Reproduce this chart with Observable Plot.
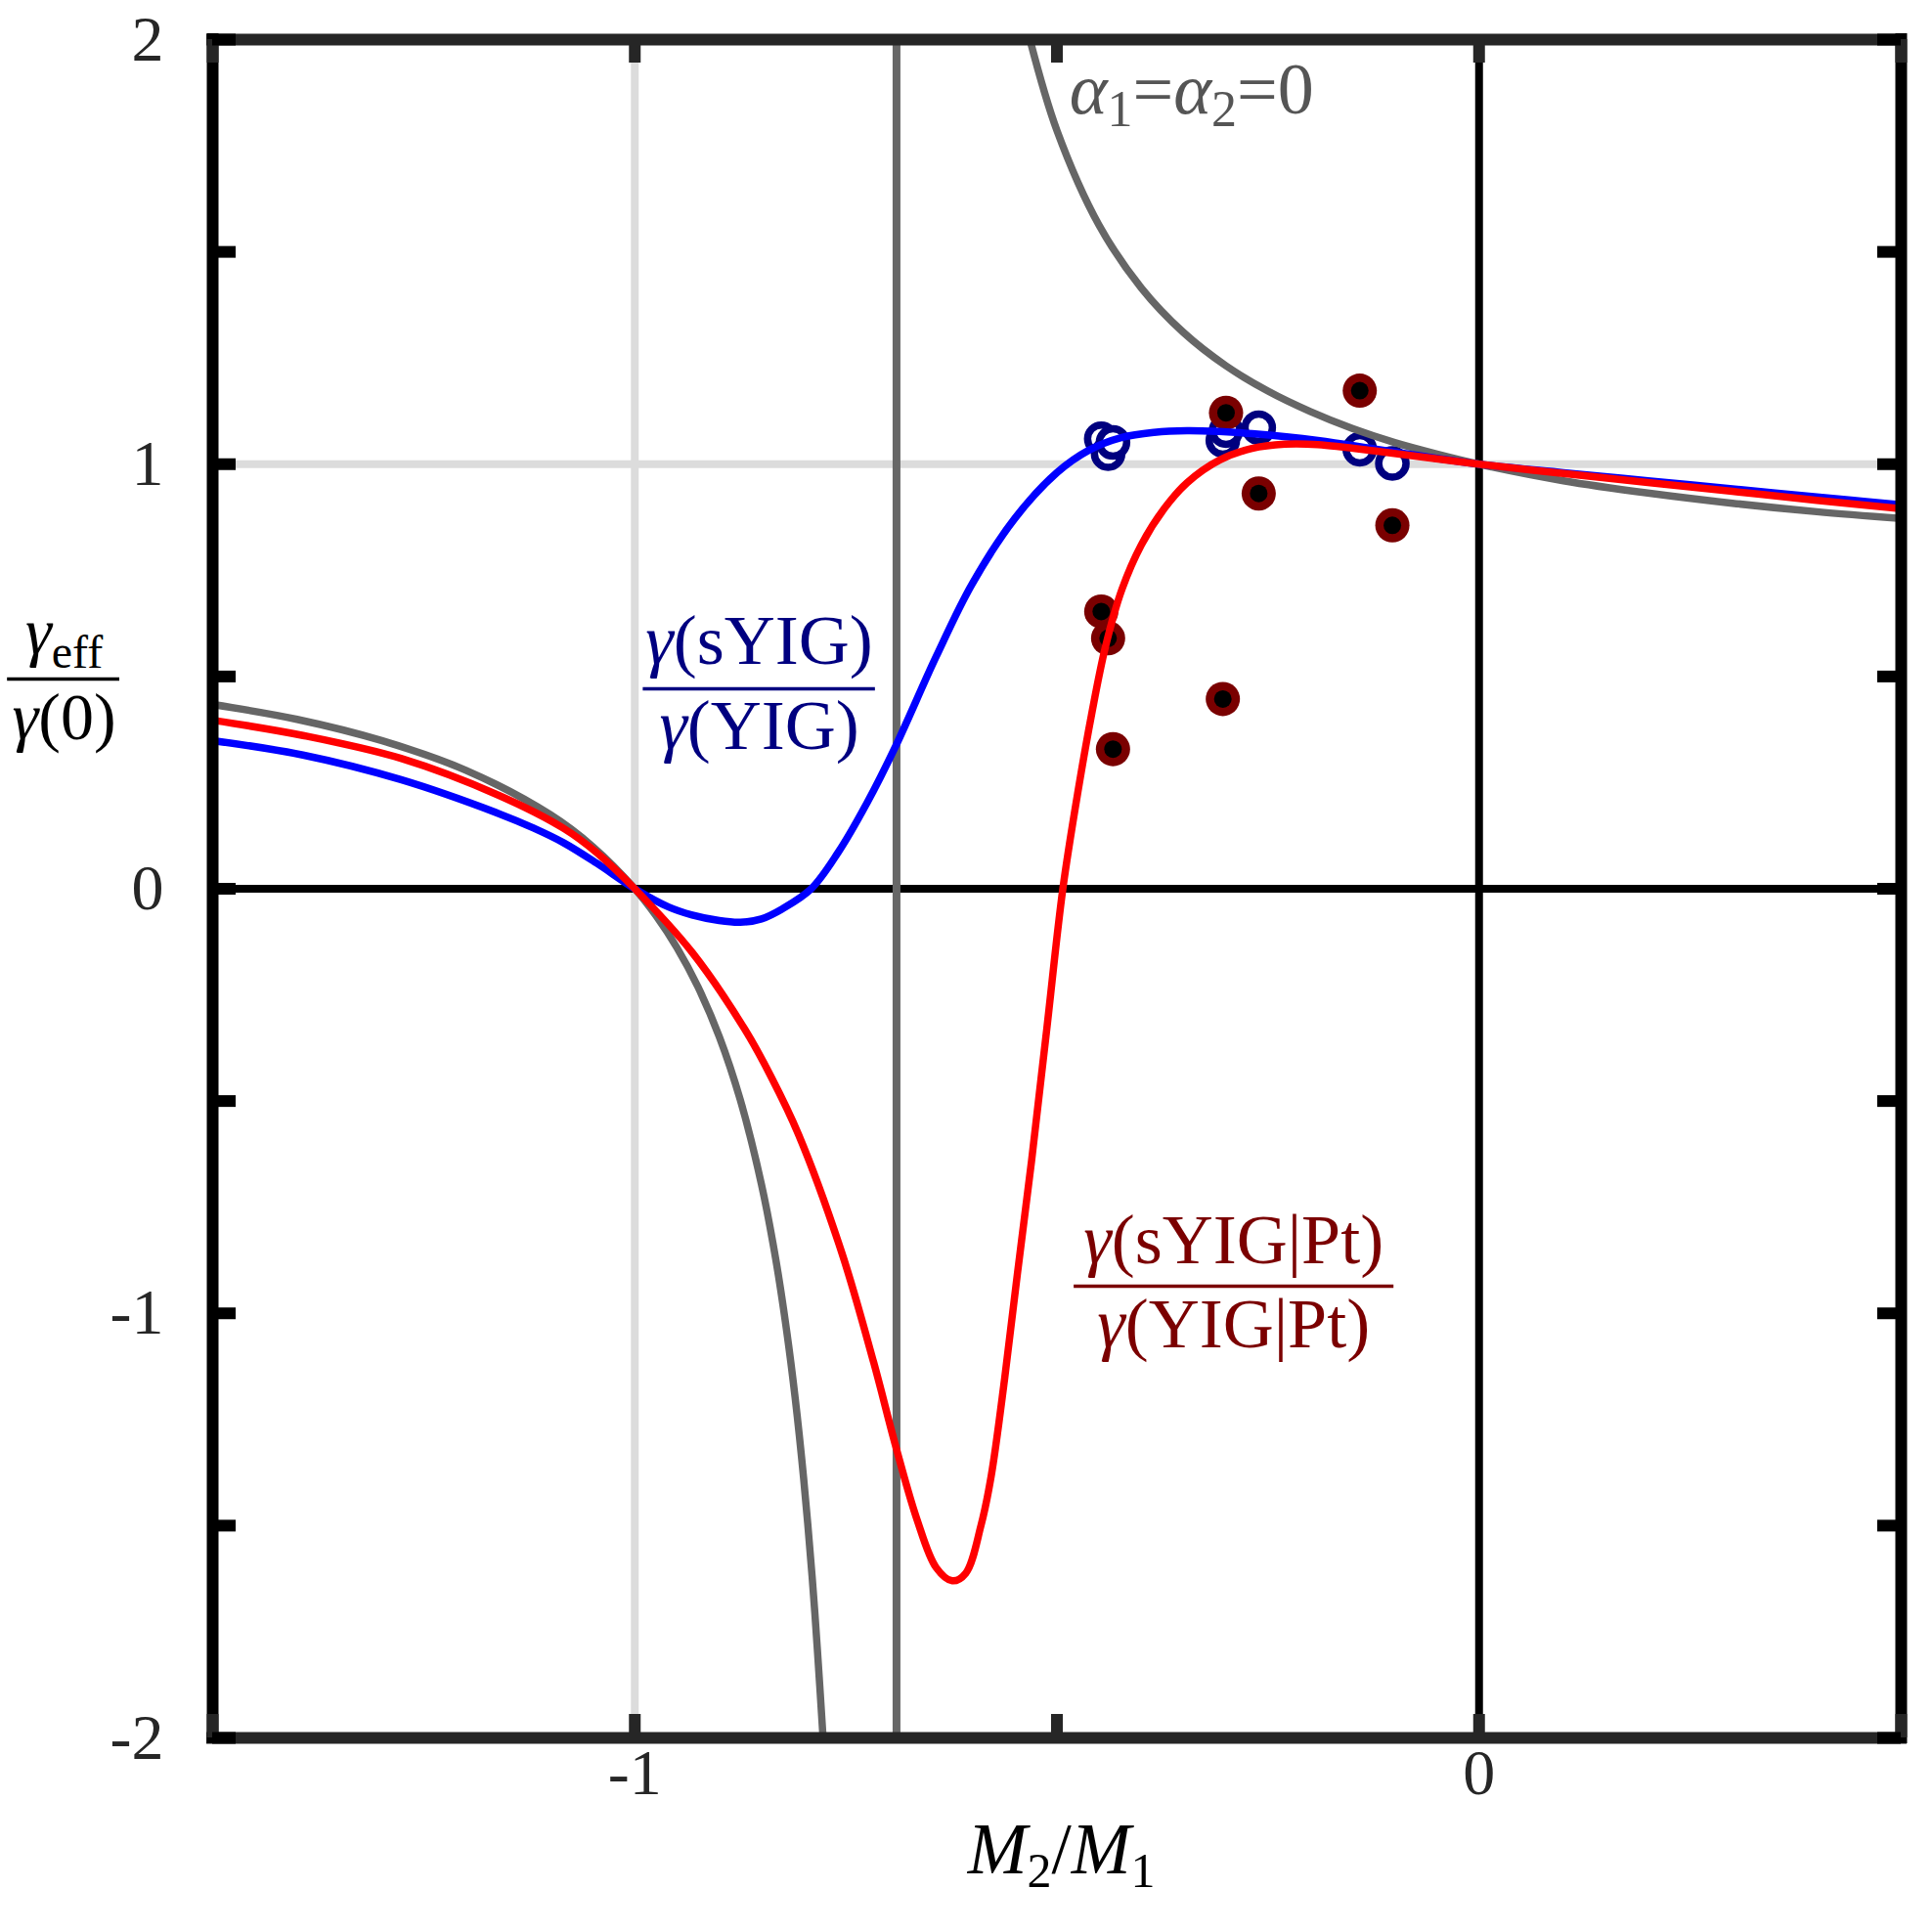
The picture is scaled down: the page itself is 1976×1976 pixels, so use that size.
<!DOCTYPE html>
<html>
<head>
<meta charset="utf-8">
<script src="https://cdn.jsdelivr.net/npm/d3@7"></script>
<script src="https://cdn.jsdelivr.net/npm/@observablehq/plot@0.6"></script>
<style>
  html, body { margin: 0; padding: 0; background: #fff; }
</style>
</head>
<body>
<div id="chart"></div>
<script>
// ---------- data ----------
const xTickLabels = [-1, 0];
const yTickLabels = [-2, -1, 0, 1, 2];
const xTickMarks = [-1.5, -1, -0.5, 0, 0.5];
const yTickMarks = [-2, -1.5, -1, -0.5, 0, 0.5, 1, 1.5, 2];
const poleX = -0.69;

// blue theory curve: gamma(sYIG)/gamma(YIG)
const blueCurveX = [-1.5, -1.393, -1.277, -1.161, -1.12, -1.084, -1.045, -1.0, -0.96, -0.932, -0.9, -0.875, -0.85, -0.825, -0.791, -0.759, -0.725, -0.691, -0.643, -0.601, -0.55, -0.5, -0.462, -0.423, -0.385, -0.346, -0.308, -0.269, -0.191, -0.114, 0, 0.1, 0.2, 0.3, 0.4, 0.5];
const blueCurveY = [0.349, 0.315, 0.257, 0.177, 0.143, 0.108, 0.060, 0, -0.043, -0.062, -0.075, -0.079, -0.071, -0.047, 0, 0.086, 0.202, 0.336, 0.547, 0.716, 0.872, 0.980, 1.033, 1.063, 1.075, 1.079, 1.077, 1.072, 1.056, 1.033, 1.0, 0.980, 0.961, 0.942, 0.923, 0.904];

// red theory curve: gamma(sYIG|Pt)/gamma(YIG|Pt)
const redCurveX = [-1.5, -1.393, -1.277, -1.161, -1.084, -1.045, -1.0, -0.932, -0.870, -0.838, -0.806, -0.755, -0.717, -0.6915, -0.666, -0.643, -0.624, -0.608, -0.590, -0.578, -0.562, -0.547, -0.530, -0.512, -0.493, -0.475, -0.459, -0.4425, -0.423, -0.400, -0.373, -0.346, -0.307, -0.269, -0.230, -0.191, -0.114, 0, 0.1, 0.2, 0.3, 0.4, 0.5];
const redCurveY = [0.397, 0.361, 0.307, 0.220, 0.142, 0.085, 0, -0.150, -0.330, -0.445, -0.579, -0.856, -1.116, -1.309, -1.484, -1.599, -1.630, -1.612, -1.50, -1.385, -1.155, -0.91, -0.64, -0.33, 0, 0.23, 0.41, 0.57, 0.705, 0.810, 0.895, 0.956, 1.010, 1.037, 1.047, 1.046, 1.029, 1.0, 0.978, 0.957, 0.936, 0.915, 0.895];

// gray curve (alpha1 = alpha2 = 0), two branches around the pole
const grayLeftX = [-1.5, -1.4, -1.3, -1.2, -1.1, -1.05, -1.0, -0.975, -0.95, -0.925, -0.9, -0.875, -0.85, -0.833, -0.82, -0.81, -0.8, -0.79, -0.784, -0.777];
const grayLeftY = [0.434, 0.399, 0.349, 0.279, 0.1745, 0.0997, 0, -0.063, -0.139, -0.232, -0.348, -0.4975, -0.696, -0.873, -1.043, -1.200, -1.389, -1.619, -1.784, -2.0];
const grayRightX = [-0.532, -0.5, -0.45, -0.4, -0.35, -0.3, -0.25, -0.2, -0.15, -0.1, -0.05, 0, 0.1, 0.2, 0.3, 0.4, 0.5];
const grayRightY = [2.0, 1.786, 1.5625, 1.415, 1.31, 1.232, 1.172, 1.124, 1.084, 1.051, 1.024, 1.0, 0.961, 0.932, 0.908, 0.888, 0.872];

// measured points
const sampleX = [-0.4475, -0.4394, -0.4336, -0.3035, -0.2997, -0.261, -0.1413, -0.1027];
const blueDotY = [1.060, 1.025, 1.051, 1.056, 1.079, 1.086, 1.035, 1.002];
const redDotY  = [0.653, 0.590, 0.329, 0.447, 1.121, 0.931, 1.173, 0.856];

// ---------- tables ----------
const zip = (xs, ys) => xs.map((x, i) => ({x, y: ys[i]}));
const blueCurve = zip(blueCurveX, blueCurveY);
const redCurve = zip(redCurveX, redCurveY);
const grayLeft = zip(grayLeftX, grayLeftY);
const grayRight = zip(grayRightX, grayRightY);
const bluePts = zip(sampleX, blueDotY);
const redPts = zip(sampleX, redDotY);

// rich-text markup for labels
const markup = {
  "yNum": '<tspan font-style="italic">γ</tspan><tspan font-size="48" dy="14">eff</tspan>',
  "yDen": '<tspan font-style="italic">γ</tspan>(0)',
  "xLab": '<tspan font-style="italic">M</tspan><tspan font-size="50" dy="14">2</tspan><tspan dy="-14">/</tspan><tspan font-style="italic">M</tspan><tspan font-size="50" dy="14">1</tspan>',
  "alpha": '<tspan font-style="italic">α</tspan><tspan font-size="52" dy="13">1</tspan><tspan dy="-13">=</tspan><tspan font-style="italic">α</tspan><tspan font-size="52" dy="13">2</tspan><tspan dy="-13">=0</tspan>',
  "bNum": '<tspan font-style="italic">γ</tspan>(sYIG)',
  "bDen": '<tspan font-style="italic">γ</tspan>(YIG)',
  "rNum": '<tspan font-style="italic">γ</tspan>(sYIG|Pt)',
  "rDen": '<tspan font-style="italic">γ</tspan>(YIG|Pt)'
};

const W = 1976, H = 1976;
const mL = 217, mR = 32, mT = 40, mB = 199;
const fw = W - mL - mR, fh = H - mT - mB;
const tickLen = 24;

const txt = (key, x, y, opts) => Plot.text([key], {x: () => x, y: () => y, text: d => d, lineAnchor: "bottom", ...opts});
const bar = (x1, x2, y, color) => Plot.ruleY([y], {x1: () => x1, x2: () => x2, y: d => d, stroke: color, strokeWidth: 3.5});
const curveStyle = {x: "x", y: "y", strokeWidth: 7.5, curve: "catmull-rom", clip: true};

const svg = Plot.plot({
  width: W, height: H,
  marginLeft: mL, marginRight: mR, marginTop: mT, marginBottom: mB,
  x: {domain: [-1.5, 0.5]},
  y: {domain: [-2, 2]},
  style: {fontFamily: "'Liberation Serif','Times New Roman',serif", background: "#fff", overflow: "visible"},
  marks: [
    Plot.ruleX([-1], {stroke: "#dcdcdc", strokeWidth: 8}),
    Plot.ruleY([1], {stroke: "#dcdcdc", strokeWidth: 8}),
    Plot.ruleX([0], {stroke: "#000", strokeWidth: 8}),
    Plot.ruleY([0], {stroke: "#000", strokeWidth: 8}),
    Plot.ruleX([poleX], {stroke: "#676767", strokeWidth: 8}),

    Plot.dot(bluePts, {x: "x", y: "y", r: 14, stroke: "#00007f", strokeWidth: 7.5, fill: "#fff"}),
    Plot.dot(redPts, {x: "x", y: "y", r: 17.5, fill: "#7a0000"}),
    Plot.dot(redPts, {x: "x", y: "y", r: 9, fill: "#000"}),

    Plot.line(grayLeft, {...curveStyle, stroke: "#666666"}),
    Plot.line(grayRight, {...curveStyle, stroke: "#666666"}),
    Plot.line(blueCurve, {...curveStyle, stroke: "#0000ff"}),
    Plot.line(redCurve, {...curveStyle, stroke: "#ff0000"}),

    // frame
    Plot.ruleY([-2, 2], {stroke: "#262626", strokeWidth: 12, strokeLinecap: "square"}),
    Plot.ruleX([-1.5, 0.5], {stroke: "#000", strokeWidth: 12, strokeLinecap: "square"}),
    // inward ticks
    Plot.ruleX(xTickMarks, {stroke: "#262626", strokeWidth: 12, insetTop: fh - tickLen}),
    Plot.ruleX(xTickMarks, {stroke: "#262626", strokeWidth: 12, insetBottom: fh - tickLen}),
    Plot.ruleY(yTickMarks, {stroke: "#000", strokeWidth: 12, insetRight: fw - tickLen}),
    Plot.ruleY(yTickMarks, {stroke: "#000", strokeWidth: 12, insetLeft: fw - tickLen}),

    Plot.axisX({ticks: xTickLabels, tickSize: 0, tickPadding: 11, fontSize: 66, color: "#262626", label: null, tickFormat: d => String(d)}),
    Plot.axisY({ticks: yTickLabels, tickSize: 0, tickPadding: 50, fontSize: 66, color: "#262626", label: null, tickFormat: d => String(d)}),

    // y-axis label
    txt("yNum", -1.676, 0.553, {fontSize: 68, fill: "#000"}),
    bar(-1.743, -1.610, 0.494, "#000"),
    txt("yDen", -1.676, 0.353, {fontSize: 68, fill: "#000"}),
    // x-axis label
    txt("xLab", -0.4946, -2.318, {fontSize: 73, fill: "#000"}),
    // curve annotations
    txt("alpha", -0.4853, 1.825, {fontSize: 74, fill: "#555555", textAnchor: "start"}),
    txt("bNum", -0.8526, 0.529, {fontSize: 72, fill: "#000080"}),
    bar(-0.990, -0.715, 0.471, "#000080"),
    txt("bDen", -0.8526, 0.330, {fontSize: 72, fill: "#000080"}),
    txt("rNum", -0.2907, -0.881, {fontSize: 72, fill: "#7b0000"}),
    bar(-0.4796, -0.1008, -0.936, "#7b0000"),
    txt("rDen", -0.2907, -1.081, {fontSize: 72, fill: "#7b0000"})
  ]
});

svg.querySelectorAll("text").forEach(t => {
  const k = t.textContent;
  if (markup[k]) t.innerHTML = markup[k];
});

document.getElementById("chart").appendChild(svg);
</script>
</body>
</html>
